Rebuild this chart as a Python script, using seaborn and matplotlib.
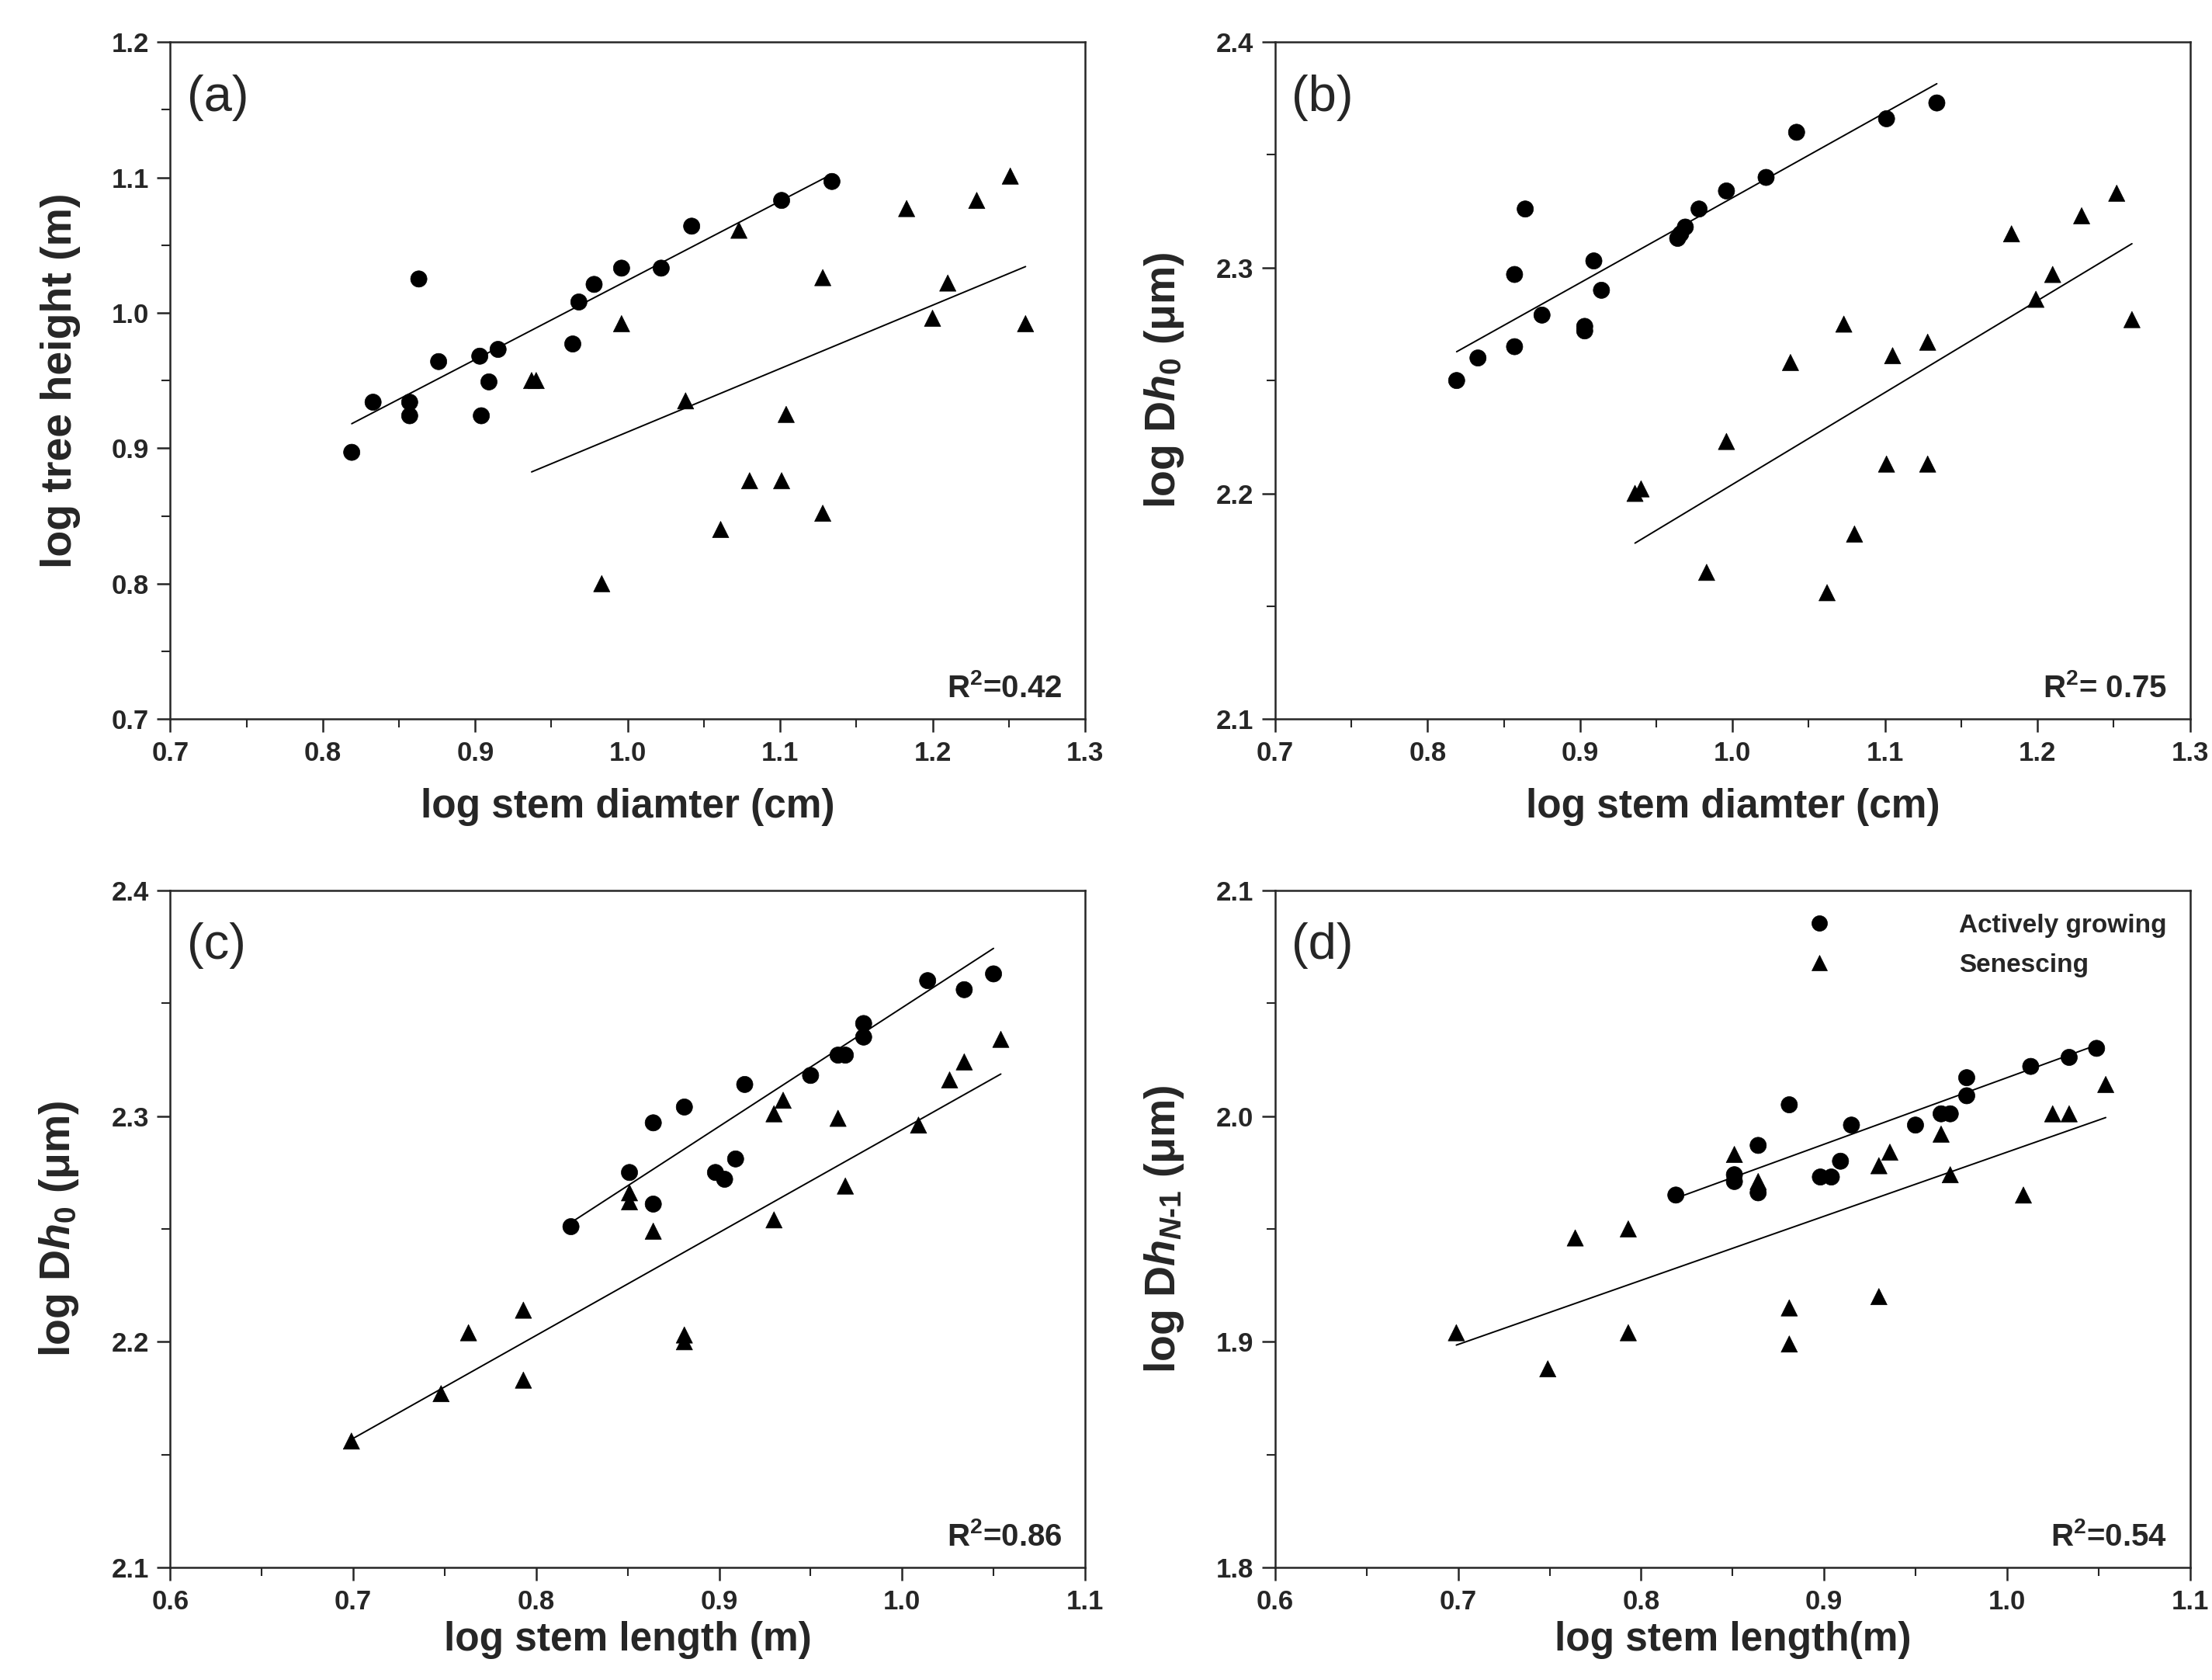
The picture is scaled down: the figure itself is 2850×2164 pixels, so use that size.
import numpy as np
import pandas as pd
import matplotlib
matplotlib.use("Agg")
import matplotlib.pyplot as plt
from matplotlib import font_manager
from matplotlib.ticker import MultipleLocator, FormatStrFormatter
import seaborn as sns

# ---- data ----
# (a) log stem diameter vs log tree height
a_grow_x = [0.819, 0.833, 0.857, 0.857, 0.863, 0.876, 0.903, 0.904, 0.909, 0.915,
            0.964, 0.968, 0.978, 0.996, 1.022, 1.042, 1.101, 1.134]
a_grow_y = [0.897, 0.934, 0.934, 0.924, 1.025, 0.964, 0.968, 0.924, 0.949, 0.973,
            0.977, 1.008, 1.021, 1.033, 1.033, 1.064, 1.083, 1.097]
a_sen_x = [0.937, 0.940, 0.983, 0.996, 1.038, 1.061, 1.073, 1.080, 1.101, 1.104,
           1.128, 1.128, 1.183, 1.200, 1.210, 1.229, 1.251, 1.261]
a_sen_y = [0.950, 0.950, 0.800, 0.992, 0.935, 0.840, 1.061, 0.876, 0.876, 0.925,
           0.852, 1.026, 1.077, 0.996, 1.022, 1.083, 1.101, 0.992]

# (b) log stem diameter vs log Dh0
b_grow_x = [0.819, 0.833, 0.857, 0.857, 0.864, 0.875, 0.903, 0.903, 0.909, 0.914,
            0.964, 0.966, 0.969, 0.978, 0.996, 1.022, 1.042, 1.101, 1.134]
b_grow_y = [2.250, 2.260, 2.265, 2.297, 2.326, 2.279, 2.274, 2.272, 2.303, 2.290,
            2.313, 2.315, 2.318, 2.326, 2.334, 2.340, 2.360, 2.366, 2.373]
b_sen_x = [0.936, 0.940, 0.983, 0.996, 1.038, 1.062, 1.073, 1.080, 1.101, 1.105,
           1.128, 1.128, 1.183, 1.199, 1.210, 1.229, 1.252, 1.262]
b_sen_y = [2.200, 2.202, 2.165, 2.223, 2.258, 2.156, 2.275, 2.182, 2.213, 2.261,
           2.213, 2.267, 2.315, 2.286, 2.297, 2.323, 2.333, 2.277]

# (c) log stem length vs log Dh0
c_grow_x = [0.819, 0.851, 0.864, 0.864, 0.881, 0.898, 0.903, 0.909, 0.914, 0.950,
            0.965, 0.969, 0.979, 0.979, 1.014, 1.034, 1.050]
c_grow_y = [2.251, 2.275, 2.297, 2.261, 2.304, 2.275, 2.272, 2.281, 2.314, 2.318,
            2.327, 2.327, 2.335, 2.341, 2.360, 2.356, 2.363]
c_sen_x = [0.699, 0.748, 0.763, 0.793, 0.793, 0.851, 0.851, 0.864, 0.881, 0.881,
           0.930, 0.935, 0.930, 0.965, 0.969, 1.009, 1.026, 1.034, 1.054]
c_sen_y = [2.156, 2.177, 2.204, 2.214, 2.183, 2.266, 2.262, 2.249, 2.203, 2.200,
           2.301, 2.307, 2.254, 2.299, 2.269, 2.296, 2.316, 2.324, 2.334]

# (d) log stem length vs log DhN-1
d_grow_x = [0.819, 0.851, 0.851, 0.864, 0.864, 0.881, 0.898, 0.904, 0.909, 0.915,
            0.950, 0.964, 0.969, 0.978, 0.978, 1.013, 1.034, 1.049]
d_grow_y = [1.965, 1.974, 1.971, 1.987, 1.966, 2.005, 1.973, 1.973, 1.980, 1.996,
            1.996, 2.001, 2.001, 2.009, 2.017, 2.022, 2.026, 2.030]
d_sen_x = [0.699, 0.749, 0.764, 0.793, 0.793, 0.851, 0.864, 0.881, 0.881, 0.930,
           0.930, 0.936, 0.964, 0.969, 1.009, 1.025, 1.034, 1.054]
d_sen_y = [1.904, 1.888, 1.946, 1.950, 1.904, 1.983, 1.971, 1.915, 1.899, 1.920,
           1.978, 1.984, 1.992, 1.974, 1.965, 2.001, 2.001, 2.014]

# fitted lines (slope, intercept) as printed in the figure
fit_grow = [(0.585, 0.439), (0.377, 1.954), (0.526, 1.822), (0.295, 1.722)]
fit_sen = [(0.468, 0.444), (0.407, 1.797), (0.456, 1.838), (0.284, 1.700)]

r2_labels = ["R$^2$=0.42", "R$^2$= 0.75", "R$^2$=0.86", "R$^2$=0.54"]
panel_labels = ["(a)", "(b)", "(c)", "(d)"]
x_labels = ["log stem diamter (cm)", "log stem diamter (cm)",
            "log stem length (m)", "log stem length(m)"]
y_labels = ["log tree height (m)", "log D$h_{0}$ (μm)", "log D$h_{0}$ (μm)",
            "log D$h_{N\\text{-}1}$ (μm)"]
x_lims = [(0.7, 1.3), (0.7, 1.3), (0.6, 1.1), (0.6, 1.1)]
y_lims = [(0.7, 1.2), (2.1, 2.4), (2.1, 2.4), (1.8, 2.1)]

groups = ["Actively growing", "Senescing"]

sns.set_style("ticks")
plt.rcParams["font.family"] = ["Liberation Sans", "DejaVu Sans"]
plt.rcParams["mathtext.fontset"] = "custom"
plt.rcParams["mathtext.rm"] = "Liberation Sans:bold"
plt.rcParams["mathtext.it"] = "Liberation Sans:italic:bold"
plt.rcParams["mathtext.bf"] = "Liberation Sans:bold"

# the original text looks condensed; use the narrow face if it is there
installed = {f.name for f in font_manager.fontManager.ttflist}
if "Liberation Sans Narrow" in installed:
    narrow, k = "Liberation Sans Narrow", 1.15
else:
    narrow, k = "Liberation Sans", 1.0

fig, axes = plt.subplots(2, 2, figsize=(28.5, 21.64), dpi=100)
fig.subplots_adjust(left=0.077, right=0.99, bottom=0.067, top=0.975,
                    wspace=0.208, hspace=0.253)

panels = [(a_grow_x, a_grow_y, a_sen_x, a_sen_y),
          (b_grow_x, b_grow_y, b_sen_x, b_sen_y),
          (c_grow_x, c_grow_y, c_sen_x, c_sen_y),
          (d_grow_x, d_grow_y, d_sen_x, d_sen_y)]

for i, ax in enumerate(axes.flat):
    gx, gy, sx, sy = panels[i]
    df = pd.DataFrame({
        "x": gx + sx,
        "y": gy + sy,
        "group": [groups[0]] * len(gx) + [groups[1]] * len(sx),
    })
    sns.scatterplot(data=df, x="x", y="y", style="group",
                    markers={groups[0]: "o", groups[1]: "^"},
                    color="black", s=230, edgecolor="black", linewidth=0.5,
                    legend=(i == 3), ax=ax, zorder=3)

    # regression lines over each group's range
    for xs, (m, b) in [(gx, fit_grow[i]), (sx, fit_sen[i])]:
        lx = np.array([min(xs), max(xs)])
        sns.lineplot(x=lx, y=m * lx + b, color="black", linewidth=1.4, ax=ax)

    ax.set_xlim(*x_lims[i])
    ax.set_ylim(*y_lims[i])
    ax.xaxis.set_major_locator(MultipleLocator(0.1))
    ax.xaxis.set_minor_locator(MultipleLocator(0.05))
    ax.yaxis.set_major_locator(MultipleLocator(0.1))
    ax.yaxis.set_minor_locator(MultipleLocator(0.05))
    ax.xaxis.set_major_formatter(FormatStrFormatter("%.1f"))
    ax.yaxis.set_major_formatter(FormatStrFormatter("%.1f"))
    ax.tick_params(which="major", direction="out", length=12, width=1.8, pad=8)
    ax.tick_params(which="minor", direction="out", length=8, width=1.5)
    for lab in ax.get_xticklabels() + ax.get_yticklabels():
        lab.set_fontweight("bold")
        lab.set_fontfamily(narrow)
        lab.set_fontsize(25 * k)
    for sp in ax.spines.values():
        sp.set_linewidth(1.8)
        sp.set_visible(True)

    ax.set_xlabel(x_labels[i], fontsize=37, fontweight="bold",
                  labelpad=20 if i < 2 else 6)
    ax.set_ylabel(y_labels[i], fontsize=40, fontweight="bold", labelpad=28)

    ax.text(0.018, 0.918, panel_labels[i], transform=ax.transAxes,
            fontsize=47, ha="left", va="center")
    ax.text(0.975, 0.045, r2_labels[i], transform=ax.transAxes,
            fontsize=29 * k, fontweight="bold", family=narrow,
            ha="right", va="center")

leg = axes[1, 1].legend(loc="upper right", frameon=False,
                        prop={"family": narrow, "weight": "bold", "size": 24 * k},
                        markerscale=0.95, handletextpad=4.4, labelspacing=0.6,
                        borderaxespad=0.5)

fig.savefig("out.png", dpi=100)
